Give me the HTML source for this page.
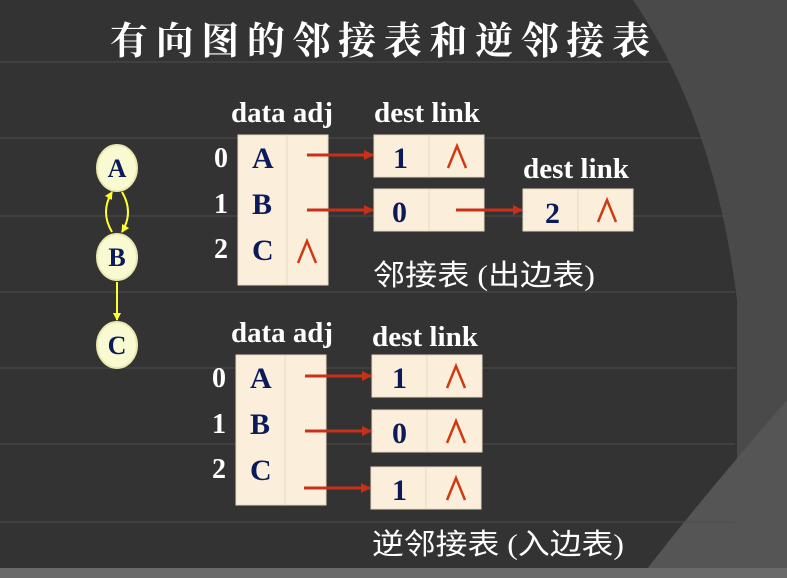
<!DOCTYPE html>
<html><head><meta charset="utf-8"><style>
body{margin:0;width:787px;height:578px;overflow:hidden;background:#333;}
</style></head><body>
<svg width="787" height="578" xmlns="http://www.w3.org/2000/svg" style="position:absolute;left:0;top:0">
<defs>
<marker id="ar" markerWidth="10" markerHeight="10" refX="9" refY="5" orient="auto" markerUnits="userSpaceOnUse"><path d="M0,0 L10,5 L0,10 z" fill="#c8301a"/></marker>
<marker id="ay" markerWidth="8" markerHeight="8" refX="7" refY="4" orient="auto" markerUnits="userSpaceOnUse"><path d="M0,0 L8,4 L0,8 z" fill="#ffff33"/></marker>
</defs>
<rect width="787" height="578" fill="#333"/>
<path d="M633,0 Q715,120 737,300 L737,578 L787,578 L787,0 Z" fill="#4a4a4a"/>
<path d="M640,578 Q700,500 787,400 L787,578 Z" fill="#555"/>
<rect x="0" y="568" width="787" height="10" fill="#6a6a6a"/>
<g stroke="#4c4c4c" stroke-width="1">
<line x1="0" y1="62" x2="735" y2="62"/><line x1="0" y1="138" x2="735" y2="138"/>
<line x1="0" y1="216" x2="735" y2="216"/><line x1="0" y1="292" x2="735" y2="292"/>
<line x1="0" y1="368" x2="735" y2="368"/><line x1="0" y1="444" x2="735" y2="444"/>
<line x1="0" y1="522" x2="735" y2="522"/>
</g>
<text x="110" y="54" fill="#fff" font-family="Liberation Serif,'Noto Serif CJK SC',serif" font-weight="bold" font-size="38" textLength="540" lengthAdjust="spacing">有向图的邻接表和逆邻接表</text>
<!-- graph -->
<g stroke="#ffff33" stroke-width="2" fill="none">
<path d="M112,232 Q100,212 112,192" marker-end="url(#ay)"/>
<path d="M122,192 Q134,212 122,232" marker-end="url(#ay)"/>
<line x1="117" y1="282" x2="117" y2="320" marker-end="url(#ay)"/>
</g>
<g fill="#fafad2" stroke="#e8e8b0" stroke-width="2">
<ellipse cx="117" cy="168" rx="20" ry="23"/><ellipse cx="117" cy="257" rx="20" ry="23"/><ellipse cx="117" cy="345" rx="20" ry="23"/>
</g>
<g font-family="Liberation Serif,serif" font-weight="bold" fill="#0a1a5a" font-size="26" text-anchor="middle">
<text x="117" y="177">A</text><text x="117" y="266">B</text><text x="117" y="354">C</text>
</g>
<g font-family="Liberation Serif,serif" font-weight="bold" font-size="28" fill="#fff">
<text x="231" y="122" textLength="102" lengthAdjust="spacingAndGlyphs">data adj</text>
<text x="374" y="122" textLength="106" lengthAdjust="spacingAndGlyphs">dest link</text>
<text x="523" y="178" textLength="106" lengthAdjust="spacingAndGlyphs">dest link</text>
<text x="231" y="342" textLength="102" lengthAdjust="spacingAndGlyphs">data adj</text>
<text x="372" y="346" textLength="106" lengthAdjust="spacingAndGlyphs">dest link</text>
<text x="214" y="167">0</text><text x="214" y="213">1</text><text x="214" y="258">2</text>
<text x="212" y="387">0</text><text x="212" y="433">1</text><text x="212" y="478">2</text>
</g>
<g fill="#fbefdc" stroke="#e6d8c0">
<rect x="238" y="135" width="90" height="150"/><line x1="287" y1="135" x2="287" y2="285"/>
<rect x="374" y="135" width="110" height="42"/><line x1="429" y1="135" x2="429" y2="177"/>
<rect x="374" y="189" width="110" height="42"/><line x1="429" y1="189" x2="429" y2="231"/>
<rect x="523" y="189" width="110" height="42"/><line x1="578" y1="189" x2="578" y2="231"/>
<rect x="236" y="355" width="90" height="150"/><line x1="285" y1="355" x2="285" y2="505"/>
<rect x="372" y="355" width="110" height="42"/><line x1="427" y1="355" x2="427" y2="397"/>
<rect x="372" y="410" width="110" height="42"/><line x1="427" y1="410" x2="427" y2="452"/>
<rect x="371" y="467" width="110" height="42"/><line x1="426" y1="467" x2="426" y2="509"/>
</g>
<g font-family="Liberation Serif,serif" font-weight="bold" font-size="30" fill="#0a1a5a">
<text x="252" y="168">A</text><text x="252" y="214">B</text><text x="252" y="260">C</text>
<text x="393" y="168">1</text><text x="392" y="222">0</text><text x="545" y="223">2</text>
<text x="250" y="388">A</text><text x="250" y="434">B</text><text x="250" y="480">C</text>
<text x="392" y="388">1</text><text x="392" y="443">0</text><text x="392" y="500">1</text>
</g>
<g stroke="#d03a10" stroke-width="2.5" fill="none" stroke-linejoin="miter">
<path d="M448,168 L457,146 L466,168"/>
<path d="M598,222 L607,200 L616,222"/>
<path d="M298,263 L307,241 L316,263"/>
<path d="M447,388 L456,366 L465,388"/>
<path d="M447,443 L456,421 L465,443"/>
<path d="M447,500 L456,478 L465,500"/>
</g>
<g stroke="#c8301a" stroke-width="3">
<line x1="307" y1="155" x2="373" y2="155" marker-end="url(#ar)"/>
<line x1="307" y1="210" x2="373" y2="210" marker-end="url(#ar)"/>
<line x1="456" y1="210" x2="522" y2="210" marker-end="url(#ar)"/>
<line x1="305" y1="376" x2="371" y2="376" marker-end="url(#ar)"/>
<line x1="305" y1="431" x2="371" y2="431" marker-end="url(#ar)"/>
<line x1="304" y1="488" x2="370" y2="488" marker-end="url(#ar)"/>
</g>
<g font-family="Liberation Serif,'Noto Sans CJK SC',sans-serif" font-size="29" fill="#fff">
<text x="373" y="285" textLength="222" lengthAdjust="spacingAndGlyphs">邻接表 (出边表)</text>
<text x="372" y="554" textLength="252" lengthAdjust="spacingAndGlyphs">逆邻接表 (入边表)</text>
</g>
</svg>
</body></html>
